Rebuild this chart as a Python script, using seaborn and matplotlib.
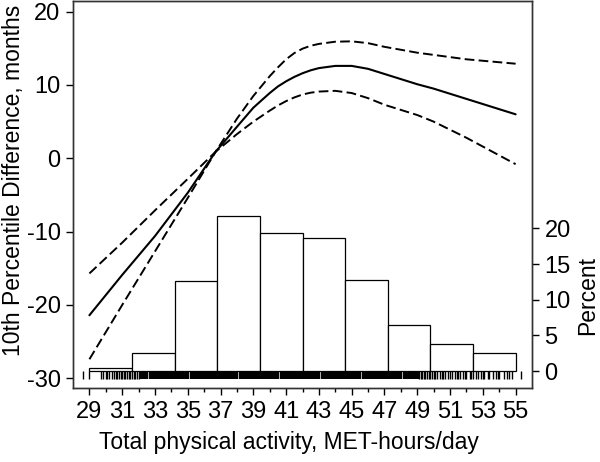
import numpy as np
import pandas as pd
import matplotlib
matplotlib.use("Agg")
import matplotlib.pyplot as plt
import seaborn as sns

# spline estimate of 10th percentile difference with 95% CI
x_pts = [29, 31, 33, 35, 36.7, 38, 39, 40, 40.5, 41, 41.5, 42, 42.5, 43, 44, 45, 46, 47, 48,
         49, 50, 51, 52, 53, 54, 55]
est = [-21.4, -15.9, -10.6, -4.7, 0.9, 4.3, 6.9, 8.9, 9.8, 10.5, 11.1, 11.6, 12.0, 12.3, 12.6,
       12.6, 12.2, 11.5, 10.8, 10.1, 9.5, 8.8, 8.1, 7.4, 6.7, 6.0]
upper = [-15.7, -11.5, -7.1, -2.8, 0.9, 5.4, 8.5, 11.2, 12.4, 13.5, 14.35, 14.95, 15.35, 15.6,
         15.9, 15.95, 15.7, 15.2, 14.8, 14.4, 14.1, 13.8, 13.5, 13.3, 13.1, 12.9]
lower = [-27.4, -20.0, -12.7, -5.4, 0.9, 3.3, 5.0, 6.5, 7.2, 7.8, 8.3, 8.7, 8.95, 9.1, 9.2,
         8.9, 8.2, 7.3, 6.6, 5.9, 5.0, 3.9, 2.8, 1.6, 0.4, -0.8]

# histogram of activity (percent per bin)
bin_edges = [29.0, 31.6, 34.2, 36.8, 39.4, 42.0, 44.6, 47.2, 49.8, 52.4, 55.0]
bin_pct = [0.38, 2.5, 12.6, 21.7, 19.3, 18.6, 12.8, 6.5, 3.8, 2.5]

# rug of individual observations
rug_sparse = [28.6, 29.0, 29.7, 29.8, 30.0, 30.1, 30.2, 30.4, 30.5, 30.6, 30.7, 30.8, 30.9,
              31.0, 31.1, 31.2, 31.3, 31.4, 31.5, 31.6, 31.7, 31.8, 31.9, 32.0, 49.1, 49.2,
              49.3, 49.4, 49.5, 49.6, 49.7, 49.8, 49.9, 50.0, 50.1, 50.2, 50.4, 50.5, 50.6,
              50.7, 50.9, 51.0, 51.1, 51.3, 51.4, 51.5, 51.6, 51.8, 51.9, 52.0, 52.2, 52.3,
              52.4, 52.6, 52.7, 52.9, 53.0, 53.1, 53.3, 53.4, 53.6, 53.8, 53.9, 54.0, 54.3,
              54.5, 54.6, 54.8, 55.3]
rug_dense = [32.35, 32.85, 33.35, 33.85, 34.35, 34.85, 35.35, 35.85, 36.35, 36.85, 37.35,
             37.85, 38.35, 38.85, 39.35, 39.85, 40.35, 40.85, 41.35, 41.85, 42.35, 42.85,
             43.35, 43.85, 44.35, 44.85, 45.35, 45.85, 46.35, 46.85, 47.35, 47.85, 48.35, 48.85]

sns.set_style("ticks")
plt.rcParams['font.family'] = ['Liberation Sans', 'DejaVu Sans']
plt.rcParams['axes.unicode_minus'] = False
plt.rcParams['text.color'] = 'black'
plt.rcParams['xtick.color'] = 'black'
plt.rcParams['ytick.color'] = 'black'
plt.rcParams['axes.labelcolor'] = 'black'
fs_tick = 17
fs_lab = 16.5

fig = plt.figure(figsize=(6, 4.62), dpi=100)
ax1 = fig.add_axes([0.1217, 0.160, 0.7650, 0.838])
ax2 = ax1.twinx()
ax1.set_zorder(ax2.get_zorder() + 1)
ax1.patch.set_visible(False)

mids = [(a + b) / 2 for a, b in zip(bin_edges[:-1], bin_edges[1:])]
hist_df = pd.DataFrame({"x": mids, "pct": bin_pct})
sns.histplot(data=hist_df, x="x", weights="pct", bins=bin_edges, ax=ax2,
             color="white", edgecolor="black", linewidth=0.9, alpha=1)
ax2.vlines(rug_sparse, -1.05, 0, color="black", linewidth=1.0)
ax2.vlines(rug_dense, -1.05, 0, color="black", linewidth=6)

curve = pd.DataFrame({"x": x_pts, "est": est, "upper": upper, "lower": lower})
sns.lineplot(data=curve, x="x", y="est", ax=ax1, color="black", linewidth=1.5)
sns.lineplot(data=curve, x="x", y="upper", ax=ax1, color="black", linewidth=1.4,
             linestyle=(0, (5, 2.2)))
sns.lineplot(data=curve, x="x", y="lower", ax=ax1, color="black", linewidth=1.4,
             linestyle=(0, (5, 2.2)))

ax1.set_xlim(28, 56)
ax1.set_ylim(-31.33, 21.46)
ax2.set_ylim(-2.38, 51.9)

ax1.set_xticks(range(29, 56, 2))
ax1.set_xticks(range(30, 56, 2), minor=True)
ax1.set_yticks([-30, -20, -10, 0, 10, 20])
ax2.set_yticks([0, 5, 10, 15, 20])

ax1.tick_params(axis="x", which="major", length=5, width=1, labelsize=fs_tick, pad=4)
ax1.tick_params(axis="x", which="minor", length=3, width=1)
ax1.tick_params(axis="y", length=5, width=1, labelsize=fs_tick, pad=4)
ax2.tick_params(axis="y", length=5, width=1, labelsize=fs_tick, pad=4)

ax1.set_xlabel("Total physical activity, MET-hours/day", fontsize=fs_lab)
ax1.xaxis.set_label_coords(0.47, -0.111)
ax1.set_ylabel("10th Percentile Difference, months", fontsize=fs_lab)
ax1.yaxis.set_label_coords(-0.105, 0.536)
ax2.set_ylabel("Percent", fontsize=fs_lab)
ax2.yaxis.set_label_coords(1.096, 0.24)
ax2.set_xlabel("")

for ax in (ax1, ax2):
    for s in ax.spines.values():
        s.set_visible(True)
        s.set_color("#333333")
        s.set_linewidth(1)

fig.savefig("out.png", dpi=100)
